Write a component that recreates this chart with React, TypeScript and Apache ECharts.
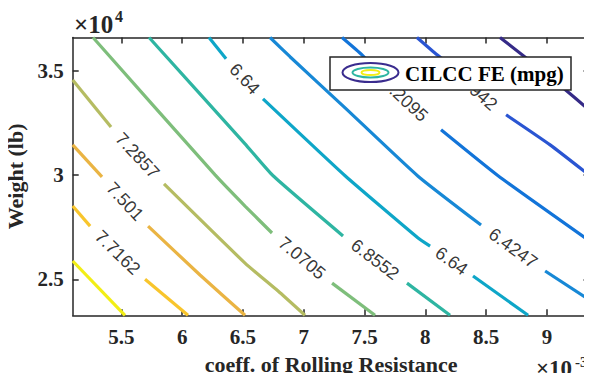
import React, { useEffect, useRef } from 'react';
import * as echarts from 'echarts';

// x: coefficient of rolling resistance (in units of 1e-3)
// y: vehicle weight (in units of 1e4 lb)
const X_MIN = 5.1;
const X_MAX = 9.35;
const Y_MIN = 2.328;
const Y_MAX = 3.658;

const xTicks = [5.5, 6, 6.5, 7, 7.5, 8, 8.5, 9];
const yTicks = [2.5, 3, 3.5];

const levelNames = ['5.779', '5.9942', '6.2095', '6.4247', '6.64', '6.8552', '7.0705', '7.2857', '7.501', '7.7162', '7.9314'];
const levelColors = ['#352A87', '#2A55D2', '#1274D9', '#1788D6', '#0EA6C8', '#2EB5A2', '#7EBE7B', '#B5BC62', '#EAB443', '#F8C52C', '#F2EE16'];

// contour segments (broken where the inline labels sit)
const c5779 = [[[8.614, 3.658], [8.984, 3.489], [9.35, 3.31]]];
const c5994 = [
  [[7.931, 3.658], [8.096, 3.575], [8.17, 3.542]],
  [[8.664, 3.288], [9.026, 3.144], [9.35, 2.998]],
];
const c6210 = [
  [[7.315, 3.658], [7.479, 3.575], [7.562, 3.523]],
  [[8.129, 3.216], [8.598, 2.996], [9.35, 2.684]],
];
const c6425 = [
  [[6.723, 3.658], [6.887, 3.566], [7.34, 3.321], [7.94, 2.994], [8.458, 2.76]],
  [[8.985, 2.54], [9.35, 2.401]],
];
const c6640 = [
  [[6.221, 3.658], [6.361, 3.556]],
  [[6.665, 3.364], [7.34, 2.996], [7.94, 2.698], [8.039, 2.659]],
  [[8.392, 2.516], [8.845, 2.328]],
];
const c6855 = [
  [[5.728, 3.658], [6.517, 3.149], [6.748, 2.996], [7.323, 2.708]],
  [[7.849, 2.482], [8.203, 2.328]],
];
const c7071 = [
  [[5.267, 3.658], [6.271, 3.0], [6.517, 2.851], [6.739, 2.722]],
  [[7.233, 2.482], [7.586, 2.328]],
];
const c7286 = [
  [[5.1, 3.455], [5.415, 3.23]],
  [[5.851, 2.957], [6.517, 2.578], [6.789, 2.444], [7.01, 2.328]],
];
const c7501 = [
  [[5.1, 3.144], [5.341, 2.991]],
  [[5.72, 2.755], [6.147, 2.521], [6.517, 2.328]],
];
const c7716 = [
  [[5.1, 2.851], [5.243, 2.755]],
  [[5.695, 2.501], [6.048, 2.328]],
];
const c7931 = [[[5.1, 2.588], [5.53, 2.328]]];

const contours = [c5779, c5994, c6210, c6425, c6640, c6855, c7071, c7286, c7501, c7716, c7931];

// inline contour labels
const labelTexts = ['5.9942', '6.2095', '6.4247', '6.64', '6.64', '6.8552', '7.0705', '7.2857', '7.501', '7.7162'];
const labelX = [8.4, 7.833, 8.721, 6.513, 8.215, 7.586, 6.986, 5.633, 5.53, 5.469];
const labelY = [3.412, 3.36, 2.65, 3.46, 2.588, 2.595, 2.602, 3.093, 2.873, 2.628];
const labelAngle = [41, 43, 36, 47, 36, 37, 40, 47, 47, 44];

const SERIF = '"Liberation Serif", "Times New Roman", serif';
const SANS = '"Liberation Sans", Arial, sans-serif';
const AXIS_COLOR = '#262626';

export default function App() {
  const ref = useRef<HTMLDivElement>(null);

  useEffect(() => {
    if (!ref.current) return;
    const chart = echarts.init(ref.current, undefined, { renderer: 'svg' });

    const series: any[] = [];
    contours.forEach((segs, i) => {
      segs.forEach((seg) => {
        series.push({
          type: 'line',
          name: levelNames[i],
          data: seg,
          showSymbol: false,
          symbol: 'none',
          smooth: 0.15,
          lineStyle: { color: levelColors[i], width: 3.2 },
          itemStyle: { color: levelColors[i] },
          z: 2,
        });
      });
    });

    series.push({
      type: 'scatter',
      symbolSize: 0,
      z: 3,
      data: labelTexts.map((t, i) => ({
        name: t,
        value: [labelX[i], labelY[i]],
        label: { rotate: -labelAngle[i] },
      })),
      label: {
        show: true,
        position: 'inside',
        formatter: '{b}',
        color: '#000',
        fontFamily: SANS,
        fontSize: 18,
        align: 'center',
        verticalAlign: 'middle',
      },
    });

    const baseAxisLine = { show: true, onZero: false, lineStyle: { color: AXIS_COLOR, width: 1.5 } };

    const option: any = {
      animation: false,
      backgroundColor: '#fff',
      grid: { left: 72.7, right: 2.5, top: 37.5, bottom: 65.7, containLabel: false, outerBoundsMode: 'none' },
      xAxis: [
        {
          type: 'value',
          position: 'bottom',
          min: X_MIN,
          max: X_MAX,
          axisLine: baseAxisLine,
          axisTick: { show: true, inside: true, length: 6, customValues: xTicks, lineStyle: { color: AXIS_COLOR, width: 1.5 } },
          axisLabel: {
            customValues: xTicks,
            margin: 11,
            color: AXIS_COLOR,
            fontFamily: SERIF,
            fontWeight: 'bold',
            fontSize: 21,
          },
          splitLine: { show: false },
          name: 'coeff. of Rolling Resistance',
          nameLocation: 'middle',
          nameGap: 38,
          nameTextStyle: { color: AXIS_COLOR, fontFamily: SERIF, fontWeight: 'bold', fontSize: 22 },
        },
        {
          type: 'value',
          position: 'top',
          min: X_MIN,
          max: X_MAX,
          axisLine: baseAxisLine,
          axisTick: { show: true, inside: true, length: 6, customValues: xTicks, lineStyle: { color: AXIS_COLOR, width: 1.5 } },
          axisLabel: { show: false },
          splitLine: { show: false },
        },
      ],
      yAxis: [
        {
          type: 'value',
          position: 'left',
          min: Y_MIN,
          max: Y_MAX,
          axisLine: baseAxisLine,
          axisTick: { show: true, inside: true, length: 6, customValues: yTicks, lineStyle: { color: AXIS_COLOR, width: 1.5 } },
          axisLabel: {
            customValues: yTicks,
            margin: 9,
            color: AXIS_COLOR,
            fontFamily: SERIF,
            fontWeight: 'bold',
            fontSize: 21,
          },
          splitLine: { show: false },
          name: 'Weight (lb)',
          nameLocation: 'middle',
          nameGap: 44,
          nameTextStyle: { color: AXIS_COLOR, fontFamily: SERIF, fontWeight: 'bold', fontSize: 22 },
        },
        {
          type: 'value',
          position: 'right',
          min: Y_MIN,
          max: Y_MAX,
          axisLine: baseAxisLine,
          axisTick: { show: true, inside: true, length: 6, customValues: yTicks, lineStyle: { color: AXIS_COLOR, width: 1.5 } },
          axisLabel: { show: false },
          splitLine: { show: false },
        },
      ],
      series,
      graphic: [
        // exponent of y axis
        { type: 'text', z: 100, style: { x: 74, y: 24, text: '×10', fill: AXIS_COLOR, font: `bold 25px ${SERIF}`, verticalAlign: 'middle' } },
        { type: 'text', z: 100, style: { x: 115, y: 16, text: '4', fill: AXIS_COLOR, font: `bold 16px ${SERIF}`, verticalAlign: 'middle' } },
        // exponent of x axis
        { type: 'text', z: 100, style: { x: 536, y: 368, text: '×10', fill: AXIS_COLOR, font: `bold 23px ${SERIF}`, verticalAlign: 'middle' } },
        { type: 'text', z: 100, style: { x: 575, y: 362, text: '-3', fill: AXIS_COLOR, font: `bold 15px ${SERIF}`, verticalAlign: 'middle' } },
        // legend box
        {
          type: 'group',
          z: 100,
          children: [
            { type: 'rect', z: 100, shape: { x: 330, y: 57, width: 241, height: 33 }, style: { fill: '#fff', stroke: AXIS_COLOR, lineWidth: 1.5 } },
            { type: 'ellipse', z: 101, shape: { cx: 370.5, cy: 72.5, rx: 28, ry: 9.5 }, style: { fill: 'none', stroke: '#3A2C8E', lineWidth: 2 } },
            { type: 'ellipse', z: 101, shape: { cx: 370.5, cy: 72.5, rx: 18, ry: 5 }, style: { fill: 'none', stroke: '#2EB5A2', lineWidth: 2 } },
            { type: 'ellipse', z: 101, shape: { cx: 370.5, cy: 72.5, rx: 9, ry: 2.6 }, style: { fill: 'none', stroke: '#F2EE16', lineWidth: 2 } },
            { type: 'text', z: 101, style: { x: 405, y: 73.5, text: 'CILCC FE (mpg)', fill: '#000', font: `bold 21px ${SERIF}`, verticalAlign: 'middle' } },
          ],
        },
      ],
    };

    chart.setOption(option);
    return () => chart.dispose();
  }, []);

  return <div ref={ref} style={{ width: 592, height: 381, margin: -8 }} />;
}
